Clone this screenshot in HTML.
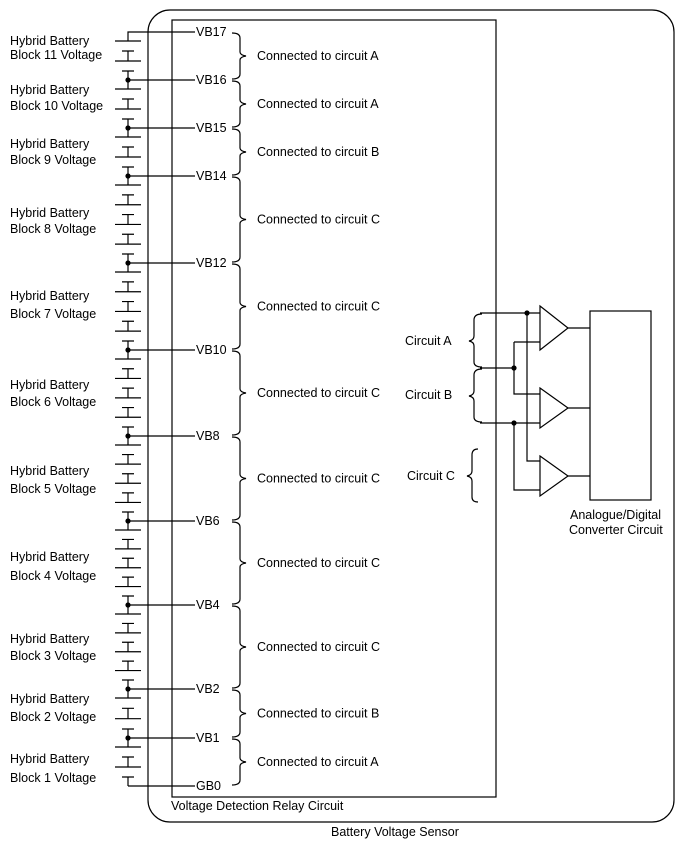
<!DOCTYPE html>
<html><head><meta charset="utf-8"><style>
body{margin:0;background:#fff}
svg{display:block}
text{font-family:"Liberation Sans",Arial,sans-serif;font-size:12.5px;fill:#000}
</style></head><body>
<svg width="688" height="852" viewBox="0 0 688 852" xmlns="http://www.w3.org/2000/svg">
<g fill="none" stroke="#000" stroke-width="1.2">
<rect x="148" y="10" width="526" height="812" rx="22"/>
<rect x="172" y="20" width="324" height="777"/>
</g>
<g id="bat" stroke="#000" stroke-width="1.2" fill="none"></g>
<g id="dots" fill="#000"></g>
<g id="br" stroke="#000" stroke-width="1.2" fill="none"></g>
<g id="tx"></g>
<g stroke="#000" stroke-width="1.2" fill="none">
<path d="M480 313H540M480 368H514M480 423H540"/>
<path d="M527 313V461H540"/>
<path d="M514 342H540M514 342V394H540M514 423V490H540"/>
<path d="M540 306L568 328L540 350Z"/>
<path d="M540 388L568 408L540 428Z"/>
<path d="M540 456L568 476L540 496Z"/>
<path d="M568 328H590M568 408H590M568 476H590"/>
<rect x="590" y="311" width="61" height="189"/>
<path d="M482 314Q474 314 474 320V336Q474 340 469 341Q474 342 474 346V362Q474 367 482 367"/>
<path d="M482 369Q474 369 474 375V391Q474 395 469 396Q474 397 474 401V417Q474 422 482 422"/>
<path d="M478 449Q472 449 472 455V471Q472 475 467 476Q472 477 472 481V497Q472 502 478 502"/>
</g>
<g fill="#000"><circle cx="527" cy="313" r="2.6"/><circle cx="514" cy="368" r="2.6"/><circle cx="514" cy="423" r="2.6"/></g>
<text x="405" y="345">Circuit A</text>
<text x="405" y="399">Circuit B</text>
<text x="407" y="480">Circuit C</text>
<text x="570" y="519">Analogue/Digital</text>
<text x="569" y="534">Converter Circuit</text>
<text x="171" y="810">Voltage Detection Relay Circuit</text>
<text x="331" y="836">Battery Voltage Sensor</text>
</svg>
<script>
var N=[["VB17",32],["VB16",80],["VB15",128],["VB14",176],["VB12",263],["VB10",350],["VB8",436],["VB6",521],["VB4",605],["VB2",689],["VB1",738],["GB0",786]];
var C=["A","A","B","C","C","C","C","C","C","B","A"];
var L=[[41,55],[90,106],[144,160],[213,229],[296,314],[385,402],[471,489],[557,576],[639,656],[699,717],[759,778]];
var ns="http://www.w3.org/2000/svg";
function el(p,t,a,txt){var e=document.createElementNS(ns,t);for(var k in a)e.setAttribute(k,a[k]);if(txt)e.textContent=txt;document.getElementById(p).appendChild(e);}
var d="";
var plates=[];
for(var s=0;s<11;s++){var a=N[s][1],b=N[s+1][1],H=b-a,k=Math.round(H/20),sp=(H-18)/(2*k-1);
 for(var i=0;i<2*k;i++){plates.push([a+9+sp*i,i%2==0]);}}
for(var i=0;i<plates.length;i++){var y=plates[i][0];
 if(plates[i][1])d+="M115 "+y+"H141";else d+="M122 "+y+"H134";}
d+="M128 "+plates[0][0]+"V32H195";
for(var i=1;i<plates.length;i+=2){var y1=plates[i][0],y2=i+1<plates.length?plates[i+1][0]:786;d+="M128 "+y1+"V"+y2;}
d+="M128 786H195";
for(var s=1;s<11;s++){d+="M128 "+N[s][1]+"H195";el("dots","circle",{cx:128,cy:N[s][1],r:2.6});}
el("bat","path",{d:d});
var bd="";
for(var s=0;s<12;s++){el("tx","text",{x:196,y:N[s][1]+4},N[s][0]);}
for(var s=0;s<11;s++){var a=N[s][1],b=N[s+1][1],m=(a+b)/2;
 bd+="M232 "+(a+1)+"Q240 "+(a+1)+" 240 "+(a+6)+"V"+(m-4)+"Q240 "+(m-1)+" 246 "+m+"Q240 "+(m+1)+" 240 "+(m+4)+"V"+(b-6)+"Q240 "+(b-1)+" 232 "+(b-1);
 el("tx","text",{x:257,y:m+4},"Connected to circuit "+C[s]);
 el("tx","text",{x:10,y:L[s][0]+4},"Hybrid Battery");
 el("tx","text",{x:10,y:L[s][1]+4},"Block "+(11-s)+" Voltage");}
el("br","path",{d:bd});
</script>
</body></html>
